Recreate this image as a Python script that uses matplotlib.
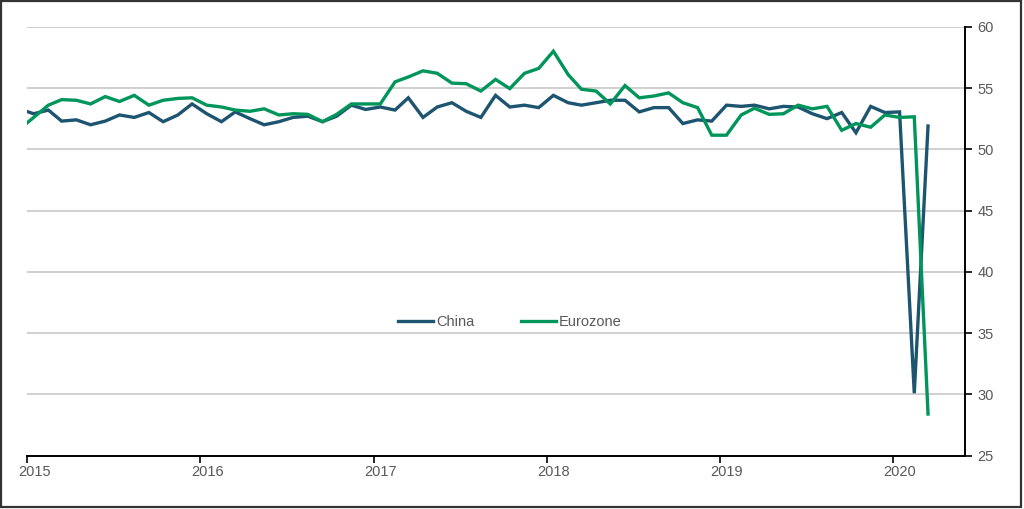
import pandas as pd
import matplotlib.pyplot as plt
from matplotlib.patches import Rectangle

# monthly readings, Dec 2014 .. Mar 2020 (Dec 2014 only feeds the clipped left edge)
china = [53.3,
         52.9, 53.2, 52.3, 52.4, 52.0, 52.3, 52.8, 52.6, 53.0, 52.25, 52.8, 53.7,
         52.9, 52.25, 53.05, 52.5, 52.0, 52.25, 52.6, 52.7, 52.25, 52.7, 53.6, 53.25,
         53.45, 53.2, 54.2, 52.6, 53.45, 53.8, 53.1, 52.6, 54.4, 53.45, 53.6, 53.4,
         54.4, 53.8, 53.6, 53.8, 54.0, 54.0, 53.05, 53.4, 53.4, 52.1, 52.4, 52.3,
         53.6, 53.5, 53.6, 53.3, 53.5, 53.45, 52.9, 52.5, 53.0, 51.35, 53.5, 53.0,
         53.05, 30.1, 51.9]
eurozone = [51.6,
            52.6, 53.6, 54.05, 54.0, 53.7, 54.3, 53.9, 54.4, 53.6, 54.0, 54.15, 54.2,
            53.6, 53.45, 53.2, 53.1, 53.3, 52.8, 52.9, 52.85, 52.25, 52.85, 53.7, 53.7,
            53.7, 55.5, 55.9, 56.4, 56.2, 55.4, 55.35, 54.75, 55.7, 54.95, 56.2, 56.6,
            58.0, 56.1, 54.9, 54.75, 53.7, 55.2, 54.2, 54.35, 54.6, 53.8, 53.4, 51.15,
            51.15, 52.8, 53.35, 52.85, 52.9, 53.6, 53.3, 53.5, 51.55, 52.1, 51.8, 52.8,
            52.6, 52.65, 28.4]
dates = pd.date_range('2014-12-01', periods=len(china), freq='MS') + pd.Timedelta(days=14)
years = [2015, 2016, 2017, 2018, 2019, 2020]

plt.rcParams['font.family'] = ['Liberation Sans', 'DejaVu Sans']
grey = '#595959'
fs = 10.5

fig = plt.figure(figsize=(10.24, 5.09), dpi=100)
ax = fig.add_axes([0.0264, 0.1047, 0.916, 0.8428])

ax.plot(dates, china, color='#1d5470', lw=2.4, label='China', solid_joinstyle='miter')
ax.plot(dates, eurozone, color='#00955a', lw=2.4, label='Eurozone', solid_joinstyle='miter')

ax.set_xlim(pd.Timestamp('2015-01-01'), pd.Timestamp('2020-06-01'))
ax.set_ylim(25, 60)
ax.set_yticks(range(25, 61, 5))
for v in range(30, 61, 5):
    ax.axhline(v, color='#c4c4c4', lw=1.1, zorder=0)

# year ticks on the axis, labels shifted half a month like the source
ax.set_xticks([pd.Timestamp(f'{y}-01-01') for y in years])
ax.set_xticklabels([])
ax.set_xticks([pd.Timestamp(f'{y}-01-16') for y in years], minor=True)
ax.set_xticklabels([str(y) for y in years], minor=True)
ax.tick_params(axis='x', which='major', length=5, width=1.2, color='black', direction='out')
ax.tick_params(axis='x', which='minor', length=0, pad=7, labelsize=fs, labelcolor=grey)

ax.yaxis.tick_right()
ax.tick_params(axis='y', length=5, width=1.2, color='black', direction='out',
               pad=4, labelsize=fs, labelcolor=grey)

for s in ['left', 'top']:
    ax.spines[s].set_visible(False)
for s in ['right', 'bottom']:
    ax.spines[s].set_color('black')
    ax.spines[s].set_linewidth(1.4)

ax.legend(loc='center', bbox_to_anchor=(0.515, 0.312), ncol=2, frameon=False,
          fontsize=fs, labelcolor=grey, handlelength=2.4, handletextpad=0.2,
          columnspacing=3.2)

fig.patches.append(Rectangle((0.0008, 0.003), 0.9965, 0.995, transform=fig.transFigure,
                             fill=False, edgecolor='#333333', lw=1.6))

fig.savefig('out.png', dpi=100)
